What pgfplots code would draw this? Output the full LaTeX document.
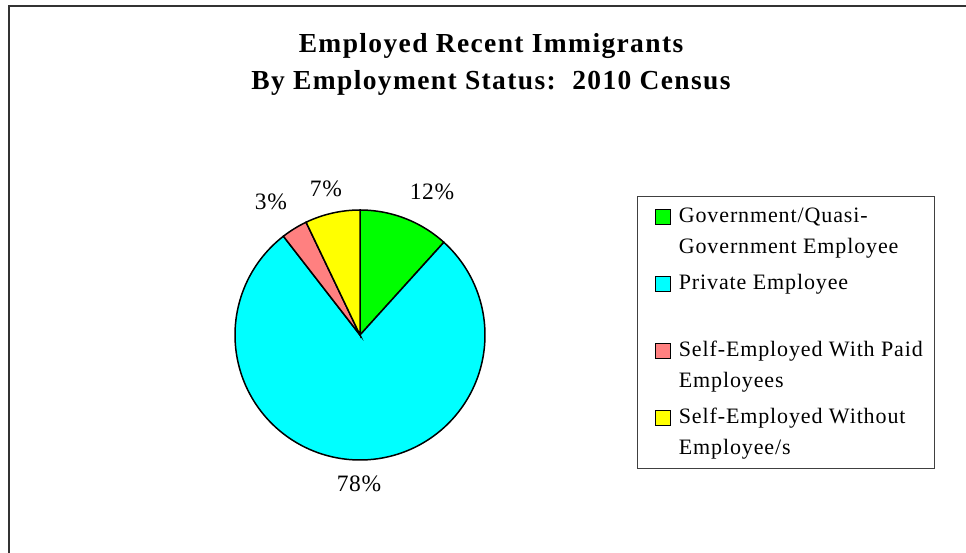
\documentclass[border=0pt]{standalone}
\usepackage{fontspec}
\setmainfont{Liberation Serif}
\newfontfamily\titlefont[LetterSpace=5]{Liberation Serif}
\newfontfamily\legfont[LetterSpace=4]{Liberation Serif}
\newfontfamily\labfont[LetterSpace=3]{Liberation Serif}
\usepackage{pgfplots}
\pgfplotsset{compat=1.18}
\definecolor{govgreen}{HTML}{00FF00}
\definecolor{privcyan}{HTML}{00FFFF}
\definecolor{paidred}{HTML}{FF8080}
\definecolor{noyellow}{HTML}{FFFF00}
% shares (percent)
\def\vGov{11.7}
\def\vPriv{77.8}
\def\vPaid{3.4}
\def\vNo{7.1}
\newcommand{\legtext}[2]{\parbox[t]{256pt}{\fontsize{22}{31}\legfont\strut #1\\\strut #2}}
\begin{document}
\begin{tikzpicture}
\useasboundingbox (0pt,0pt) rectangle (966pt,-553pt);
\fill[white] (0pt,0pt) rectangle (966pt,-553pt);
\draw[line width=1.5pt, black!80] (9pt,-600pt) -- (9pt,-6pt) -- (1000pt,-6pt);
\pgfmathsetmacro\aA{90}
\pgfmathsetmacro\aB{\aA-3.6*\vGov}
\pgfmathsetmacro\aC{\aB-3.6*\vPriv}
\pgfmathsetmacro\aD{\aC-3.6*\vPaid}
\pgfmathsetmacro\aE{\aD-3.6*\vNo}
\begin{axis}[
  at={(360pt,-335pt)}, anchor=origin,
  width=250pt, height=250pt, scale only axis,
  xmin=-1, xmax=1, ymin=-1, ymax=1,
  hide axis, clip=false,
  legend cell align=left,
  legend style={
    at={(1.608,1.056)}, anchor=north west,
    draw=black!75, line width=1pt,
    inner xsep=0pt, inner ysep=4.5pt,
    row sep=5pt, column sep=8pt,
    nodes={inner sep=0pt, text depth=, anchor=base},
  },
]
\addplot[fill=govgreen, draw=black, line width=1.5pt, domain=\aB:\aA, samples=40, variable=\t,
  legend image code/.code={\path (0pt,0pt); \draw[fill=govgreen, draw=black, line width=1.2pt] (17pt,-2pt) rectangle (32pt,13pt);}]
  ({cos(\t)}, {sin(\t)}) -- (axis cs:0,0) -- cycle;
\addlegendentry{\legtext{Government/Quasi-}{Government Employee}}
\addplot[fill=privcyan, draw=black, line width=1.5pt, domain=\aC:\aB, samples=150, variable=\t,
  legend image code/.code={\path (0pt,0pt); \draw[fill=privcyan, draw=black, line width=1.2pt] (17pt,-2pt) rectangle (32pt,13pt);}]
  ({cos(\t)}, {sin(\t)}) -- (axis cs:0,0) -- cycle;
\addlegendentry{\legtext{Private Employee}{}}
\addplot[fill=paidred, draw=black, line width=1.5pt, domain=\aD:\aC, samples=15, variable=\t,
  legend image code/.code={\path (0pt,0pt); \draw[fill=paidred, draw=black, line width=1.2pt] (17pt,-2pt) rectangle (32pt,13pt);}]
  ({cos(\t)}, {sin(\t)}) -- (axis cs:0,0) -- cycle;
\addlegendentry{\legtext{Self-Employed With Paid}{Employees}}
\addplot[fill=noyellow, draw=black, line width=1.5pt, domain=\aE:\aD, samples=25, variable=\t,
  legend image code/.code={\path (0pt,0pt); \draw[fill=noyellow, draw=black, line width=1.2pt] (17pt,-2pt) rectangle (32pt,13pt);}]
  ({cos(\t)}, {sin(\t)}) -- (axis cs:0,0) -- cycle;
\addlegendentry{\legtext{Self-Employed Without}{Employee/s}}
\end{axis}
% title
\node[anchor=base, inner sep=0pt, font=\fontsize{27.5}{30}\titlefont\bfseries] at (491pt,-53pt) {Employed Recent Immigrants};
\node[anchor=base, inner sep=0pt, font=\fontsize{27.5}{30}\titlefont\bfseries] at (491pt,-90pt) {By Employment Status:\ \ 2010 Census};
% percentage labels
\node[anchor=base, inner sep=0pt, font=\fontsize{23.5}{26}\labfont] at (432pt,-200pt) {12\%};
\node[anchor=base, inner sep=0pt, font=\fontsize{23.5}{26}\labfont] at (326pt,-197pt) {7\%};
\node[anchor=base, inner sep=0pt, font=\fontsize{23.5}{26}\labfont] at (271pt,-210pt) {3\%};
\node[anchor=base, inner sep=0pt, font=\fontsize{23.5}{26}\labfont] at (359pt,-491pt) {78\%};
\end{tikzpicture}
\end{document}
